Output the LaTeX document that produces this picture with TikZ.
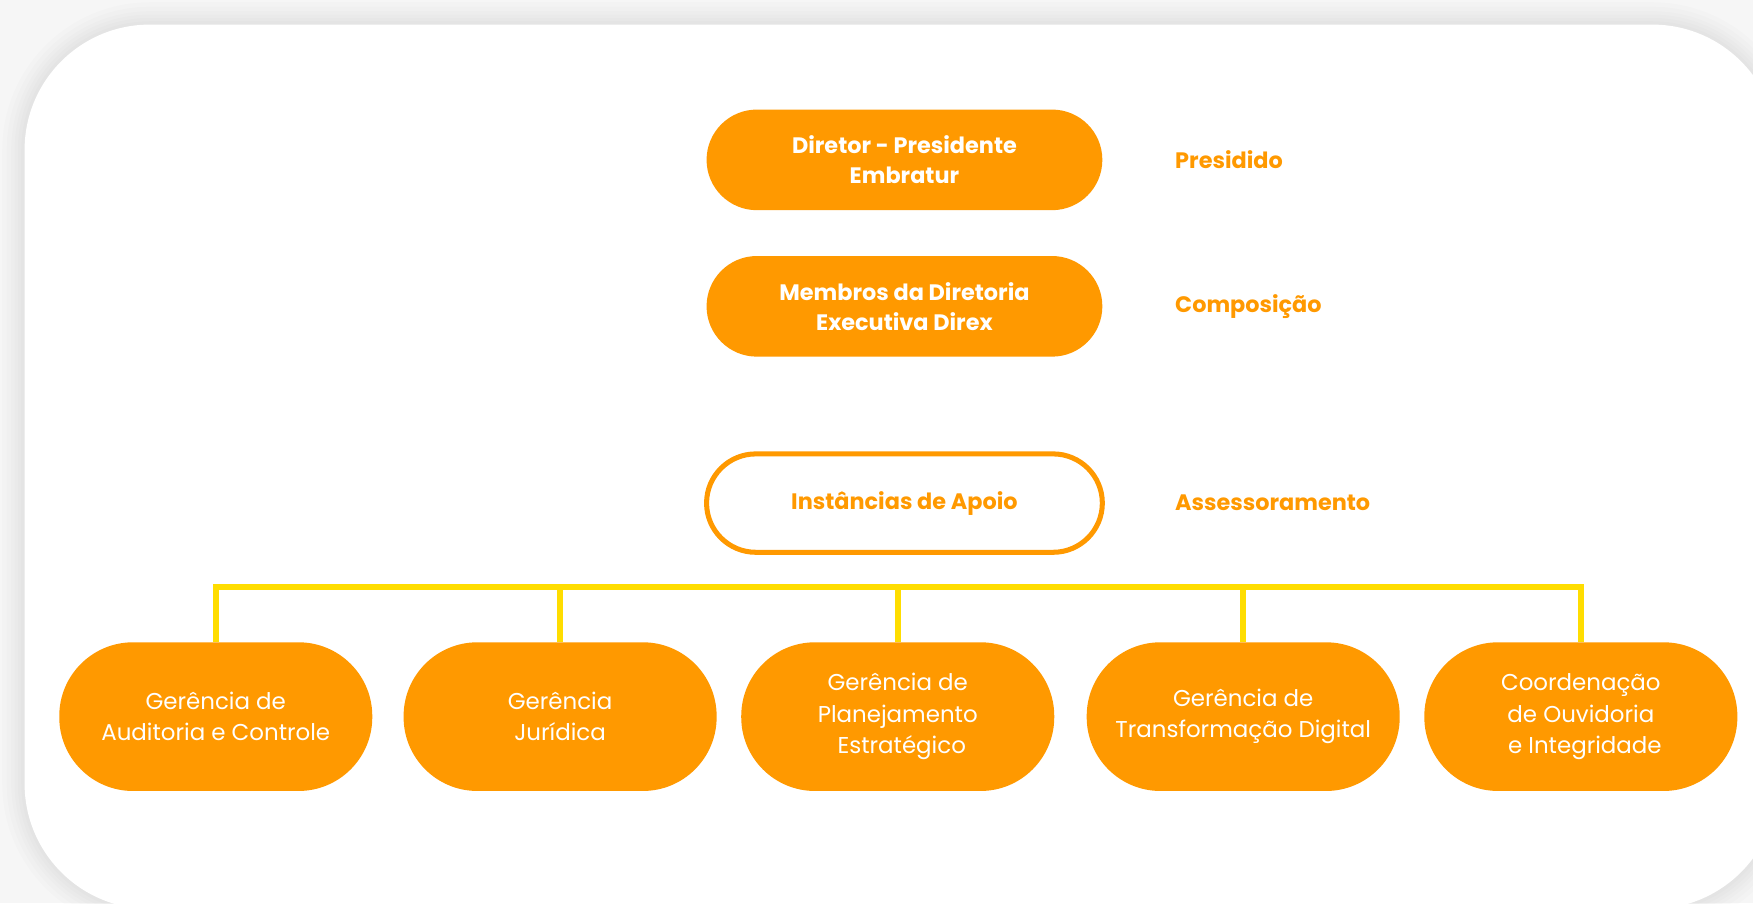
\documentclass[tikz,border=0pt]{standalone}
\usepackage{fontspec}
\setmainfont{Poppins}
\definecolor{orng}{HTML}{FF9900}
\definecolor{yell}{HTML}{FFDD00}
\definecolor{bgray}{HTML}{F6F6F6}
\begin{document}
\begin{tikzpicture}[x=1pt,y=-1pt,
  topbox/.style={fill=orng, text=white, rounded corners=45pt, minimum width=354pt, minimum height=90pt,
    align=center, inner sep=0pt, font=\bfseries\fontsize{20}{27}\selectfont},
  outbox/.style={draw=orng, line width=4.5pt, fill=white, rounded corners=44pt, minimum width=354pt, minimum height=88pt,
    align=center, inner sep=0pt, text=orng, font=\bfseries\fontsize{20}{27}\selectfont},
  botbox/.style={fill=orng, text=white, rounded corners=66pt, minimum width=280pt, minimum height=133pt,
    align=center, inner sep=0pt, font=\fontsize{20.5}{28}\selectfont},
  sidelbl/.style={anchor=west, text=orng, inner sep=0pt, font=\bfseries\fontsize{20}{24}\selectfont},
  conn/.style={draw=yell, line width=5.5pt, line join=miter}
]
\useasboundingbox (0,0) rectangle (1568,808);
\clip (0,0) rectangle (1568,808);
\fill[bgray] (0,0) rectangle (1568,808);
% soft shadow
\foreach \d in {20,16,12,9,6,3}{
  \fill[black, opacity=0.013, rounded corners={112pt+\d pt}] (22-\d,22-\d) rectangle (1590+\d,813+\d);
}
\fill[white, rounded corners=112pt] (22,22) rectangle (1590,813);

\node[topbox] (dir) at (809,143) {Diretor - Presidente\\Embratur};
\node[topbox] (mem) at (809,274) {Membros da Diretoria\\Executiva Direx};
\node[outbox] (ins) at (809,450) {Instâncias de Apoio};

\node[sidelbl] (l1) at (1051,143) {Presidido};
\node[sidelbl] (l2) at (1051,274) {Composição};
\node[sidelbl] (l3) at (1051,450) {Assessoramento};

\node[botbox] (g1) at (193,641) {Gerência de\\Auditoria e Controle};
\node[botbox] (g2) at (501,641) {Gerência\\Jurídica};
\node[botbox] (g3) at (803,641) {Gerência de\\Planejamento\\\hspace*{0.35em}Estratégico};
\node[botbox] (g4) at (1112,641) {Gerência de\\Transformação Digital};
\node[botbox] (g5) at (1414,641) {Coordenação\\de Ouvidoria\\\hspace*{0.35em}e Integridade};

\coordinate (bary) at (0,525);
\draw[conn] (g1.north) -- (g1.north |- bary) -- (g5.north |- bary) -- (g5.north);
\draw[conn] (g2.north) -- (g2.north |- bary);
\draw[conn] (g3.north) -- (g3.north |- bary);
\draw[conn] (g4.north) -- (g4.north |- bary);
\end{tikzpicture}
\end{document}
